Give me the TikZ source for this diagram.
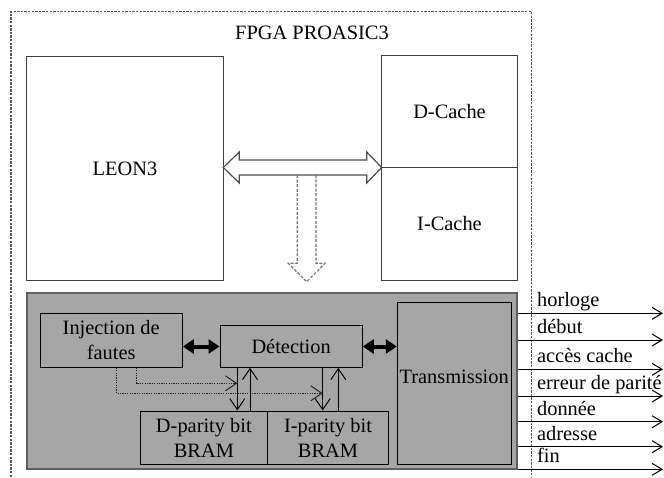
\documentclass[tikz,border=0pt]{standalone}
\usepackage{fontspec}
\setmainfont{Liberation Serif}
\usepackage{xcolor}
\usepackage{tikz}
\usetikzlibrary{positioning,calc,arrows.meta}

\definecolor{grisfond}{RGB}{166,166,166}
\definecolor{grisbord}{RGB}{95,95,95}

\begin{document}
\begin{tikzpicture}[x=0.5pt, y=-0.5pt,
    font=\fontsize{10.2}{12.5}\selectfont,
    bloc/.style={draw=black!75, line width=0.5pt, inner sep=0pt, align=center},
    blocgris/.style={bloc, draw=black, fill=grisfond},
    fleche/.style={line width=0.5pt, -{Straight Barb[length=5.5pt,width=7.5pt]}},
    flechesig/.style={line width=0.5pt, -{Straight Barb[length=5pt,width=6pt]}},
    grosse/.style={line width=2pt, {Triangle[length=5.5pt,width=7pt]}-{Triangle[length=5.5pt,width=7pt]}},
    pointille/.style={dash pattern=on 0.6pt off 0.6pt, black!85}]
    \useasboundingbox (0,0) rectangle (664,477);

    % FPGA
    \draw[black!65, line width=0.6pt, dash pattern=on 1.2pt off 0.6pt]
        (11,477) -- (11,11.7) -- (531.7,11.7) -- (531.7,477);
    \node (fpga) at (312,33.3) {FPGA PROASIC3};

    % processeur et caches
    \node[bloc, minimum width=98.3pt, minimum height=112pt] (leon) at (125,168.7) {LEON3};
    \node[bloc, minimum width=67.8pt, minimum height=55.9pt] (dcache) at (449.5,111.6) {D-Cache};
    \node[bloc, minimum width=67.8pt, minimum height=56.25pt] (icache) at (449.5,223.75) {I-Cache};

    % bus
    \draw[black!70, fill=white, line width=0.6pt] (223.3,167.5) -- (239.3,152) -- (239.3,160)
        -- (366.7,160) -- (366.7,152) -- (381.7,167.5) -- (366.7,183) -- (366.7,175)
        -- (239.3,175) -- (239.3,183) -- cycle;
    \draw[black!55, line width=0.6pt, dash pattern=on 1.5pt off 0.8pt] (297.3,175) -- (297.3,263.3)
        -- (288.3,263.3) -- (306.7,281.7) -- (325,263.3) -- (316,263.3) -- (316,175);

    % partie test
    \node[bloc, draw=grisbord, line width=0.9pt, fill=grisfond,
          minimum width=245pt, minimum height=88.15pt] (test) at (271.7,381.15) {};
    \node[blocgris, minimum width=71.15pt, minimum height=27pt] (inj) at (111.15,340.3) {Injection de\\fautes};
    \node[blocgris, minimum width=71.15pt, minimum height=20.8pt] (det) at (291.15,346.5) {Détection};
    \node[blocgris, minimum width=56.85pt, minimum height=80.85pt, text depth=6pt] (trans) at (454.15,383.15) {Transmission};
    \node[blocgris, minimum width=63.85pt, minimum height=26.5pt] (dpar) at (203.85,437.5) {D-parity bit\\BRAM};
    \node[blocgris, minimum width=60.3pt, minimum height=26.5pt] (ipar) at (328,437.5) {I-parity bit\\BRAM};

    \draw[grosse] (inj.east |- det.west) -- (det.west);
    \draw[grosse] (det.east) -- (trans.west |- det.east);

    \draw[fleche] (237.3,0 |- det.south) -- (237.3,0 |- dpar.north);
    \draw[fleche] (250,0 |- dpar.north) -- (250,0 |- det.south);
    \draw[fleche] (322.7,0 |- det.south) -- (322.7,0 |- ipar.north);
    \draw[fleche] (338.3,0 |- ipar.north) -- (338.3,0 |- det.south);

    \draw[fleche, pointille] (136,0 |- inj.south) |- (237.3,383.3);
    \draw[fleche, pointille] (116.7,0 |- inj.south) |- (322.7,393.3);

    % signaux
    \foreach \y/\nom [count=\i] in {313.3/horloge, 340/début, 369.3/accès cache,
        396/erreur de parité, 421.7/donnée, 446.7/adresse, 469.3/fin} {
        \coordinate (sig\i) at (663,\y);
        \draw[flechesig] (test.east |- sig\i) -- (sig\i);
        \node[anchor=base west, inner sep=0pt] (lab\i) at (536.7,\y-6.5) {\nom};
    }
\end{tikzpicture}
\end{document}
